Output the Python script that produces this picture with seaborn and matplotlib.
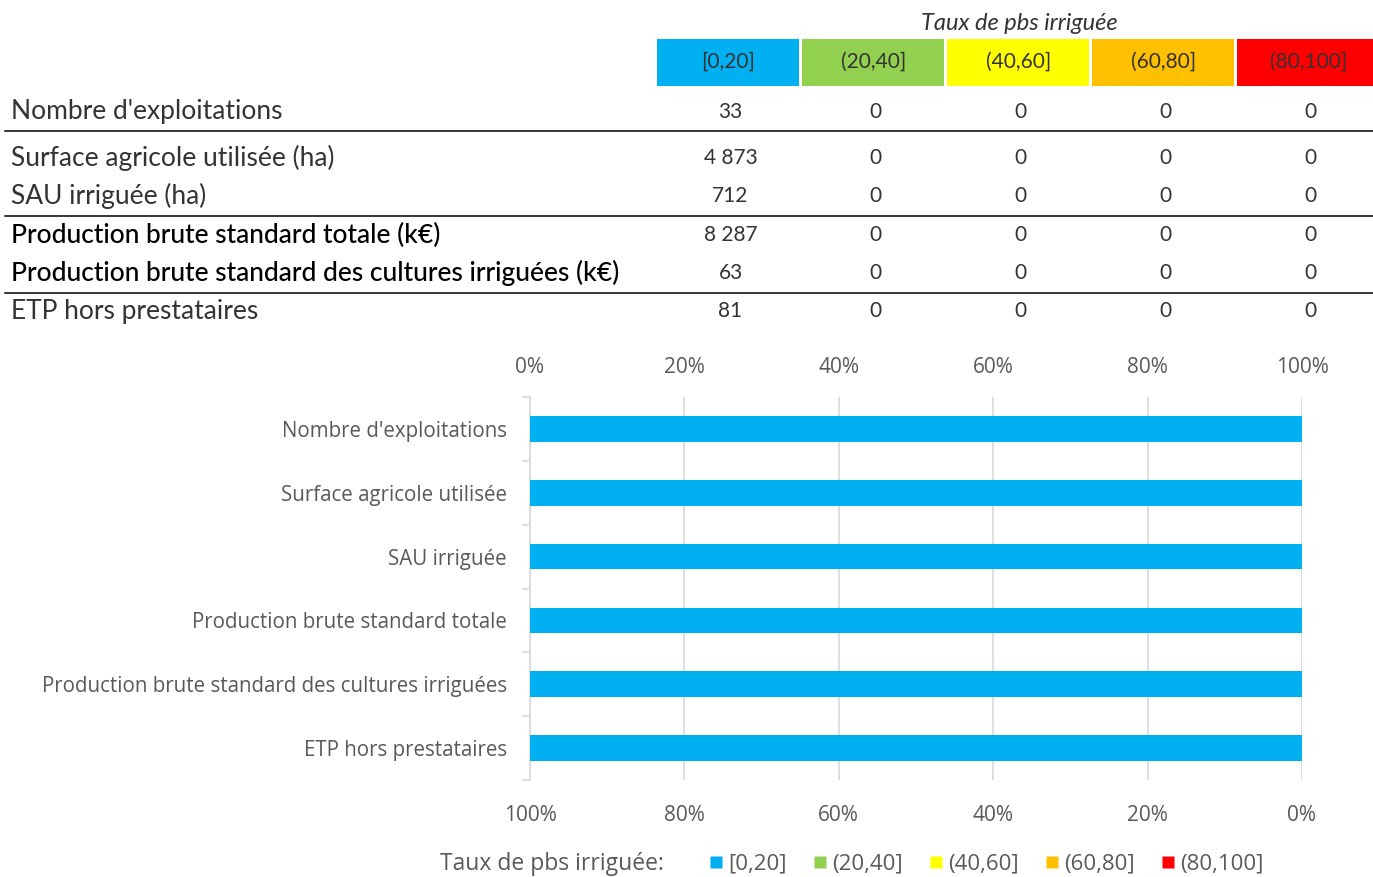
import numpy as np
import pandas as pd
import matplotlib
matplotlib.use('Agg')
import matplotlib.pyplot as plt
from matplotlib.patches import Rectangle
from matplotlib.lines import Line2D
import seaborn as sns

# --- données ---
classes = ['[0,20]', '(20,40]', '(40,60]', '(60,80]', '(80,100]']
class_colors = ['#00B0F0', '#92D050', '#FFFF00', '#FFC000', '#FF0000']

table_rows = ["Nombre d'exploitations", "Surface agricole utilisée (ha)", "SAU irriguée (ha)",
              "Production brute standard totale (k€)",
              "Production brute standard des cultures irriguées (k€)", "ETP hors prestataires"]
chart_rows = ["Nombre d'exploitations", "Surface agricole utilisée", "SAU irriguée",
              "Production brute standard totale",
              "Production brute standard des cultures irriguées", "ETP hors prestataires"]

v_0_20 = [33, 4873, 712, 8287, 63, 81]
v_20_40 = [0, 0, 0, 0, 0, 0]
v_40_60 = [0, 0, 0, 0, 0, 0]
v_60_80 = [0, 0, 0, 0, 0, 0]
v_80_100 = [0, 0, 0, 0, 0, 0]

legend_title = 'Taux de pbs irriguée:'
table_title = 'Taux de pbs irriguée'

values = np.array([v_0_20, v_20_40, v_40_60, v_60_80, v_80_100], dtype=float)
shares = values / values.sum(axis=0) * 100
cumul = np.cumsum(shares, axis=0)

W, H = 1373, 877
fig = plt.figure(figsize=(W / 100, H / 100), dpi=100)
fig.patch.set_facecolor('white')

TFONT = 'Lato'
CFONT = 'Open Sans'
GREY = '#595959'
DARK = '#333333'

# --- tableau (coordonnées en pixels) ---
axt = fig.add_axes([0, 0, 1, 1])
axt.set_xlim(0, W)
axt.set_ylim(H, 0)
axt.axis('off')

axt.text(1019, 23, table_title, ha='center', va='center', fontsize=17, style='italic',
         family=TFONT, color=DARK)
box_x = [657, 802, 947, 1092, 1237]
box_w = 143
col_cx = [x + box_w / 2 for x in box_x]
for x, lab, c in zip(box_x, classes, class_colors):
    axt.add_patch(Rectangle((x, 39), box_w - 1 if x < 1237 else 136, 47, facecolor=c, edgecolor='none'))
    axt.text(x + box_w / 2, 62, lab, ha='center', va='center', fontsize=15,
             family=TFONT, color=DARK)

row_y = [112, 158, 196, 235, 273, 311]
for i, (lab, y) in enumerate(zip(table_rows, row_y)):
    bold = i in (3, 4)
    axt.text(11, y, lab, ha='left', va='center', fontsize=19,
             family=TFONT, fontweight='medium' if bold else 'normal',
             color='black' if bold else DARK)
    for j, cx in enumerate(col_cx):
        v = int(values[j, i])
        txt = f'{v:,}'.replace(',', ' ')
        axt.text(cx + 2, y, txt, ha='center', va='center', fontsize=15,
                 family=TFONT, color=DARK)

for y in (131, 216, 293):
    axt.plot([5, 1373], [y, y], color='black', lw=1.1)

# --- graphique barres empilées 100% ---
ax = fig.add_axes([530 / W, 1 - 780 / H, 772 / W, (780 - 397) / H])
for k in range(len(classes) - 1, -1, -1):
    df = pd.DataFrame({'cat': chart_rows, 'val': cumul[k]})
    sns.barplot(data=df, x='val', y='cat', orient='h', color=class_colors[k],
                saturation=1, width=0.4, ax=ax, zorder=3)

ax.set_xlim(0, 100)
ax.set_ylim(len(chart_rows) - 0.5, -0.5)
ax.set_xlabel('')
ax.set_ylabel('')
ax.set_xticks([0, 20, 40, 60, 80, 100])
ax.set_xticklabels(['100%', '80%', '60%', '40%', '20%', '0%'])
ax.grid(axis='x', color='#d9d9d9', lw=1.2, zorder=0)
ax.set_axisbelow(True)
for s in ('top', 'right', 'bottom'):
    ax.spines[s].set_visible(False)
ax.spines['left'].set_color('#d9d9d9')
ax.spines['left'].set_linewidth(1.2)
ax.tick_params(axis='x', length=0, pad=18, labelsize=15, labelcolor=GREY)
ax.tick_params(axis='y', which='major', length=0, pad=16.5, labelsize=14.8, labelcolor=GREY)
ax.set_yticks(np.arange(-0.5, len(chart_rows)), minor=True)
ax.tick_params(axis='y', which='minor', length=6, color='#d9d9d9', width=1.2)
for t in ax.get_xticklabels() + ax.get_yticklabels():
    t.set_family(CFONT)

top = ax.secondary_xaxis('top')
top.set_xticks([0, 20, 40, 60, 80, 100])
top.set_xticklabels(['0%', '20%', '40%', '60%', '80%', '100%'])
top.tick_params(length=0, pad=14, labelsize=15, labelcolor=GREY)
top.spines['top'].set_visible(False)
for t in top.get_xticklabels():
    t.set_family(CFONT)

# --- légende ---
fig.text(440 / W, 1 - 864 / H, legend_title, ha='left', va='center', fontsize=16.5,
         family=CFONT, color=GREY)
handles = [Line2D([], [], marker='s', ls='none', markersize=9, markerfacecolor=c,
                  markeredgecolor='none') for c in class_colors]
leg = fig.legend(handles, classes, loc='center left', bbox_to_anchor=(689 / W, 1 - 864 / H),
                 ncol=5, frameon=False, handlelength=0.6, handletextpad=0.25,
                 columnspacing=1.2, prop={'family': CFONT, 'size': 16})
for t in leg.get_texts():
    t.set_color(GREY)

fig.savefig('out.png', dpi=100)
